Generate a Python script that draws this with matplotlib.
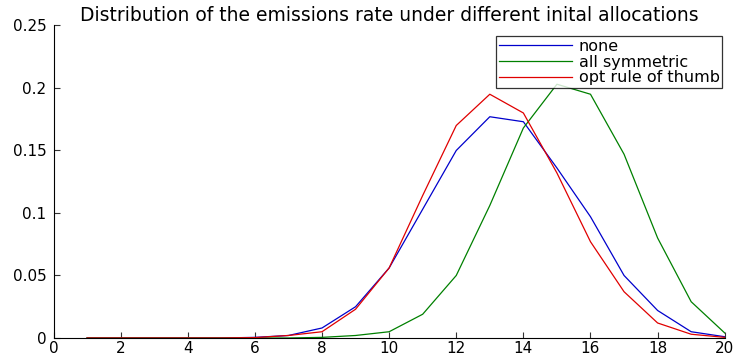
import matplotlib
matplotlib.use("Agg")
import matplotlib.pyplot as plt

plt.rcParams['font.family'] = ['DejaVu Sans']

x = list(range(1, 21))
none = [0, 0, 0, 0, 0, 0.0005, 0.002, 0.008, 0.025, 0.056, 0.103, 0.150, 0.177, 0.173,
        0.136, 0.097, 0.050, 0.022, 0.005, 0.001]
all_sym = [0, 0, 0, 0, 0, 0, 0, 0.0005, 0.002, 0.005, 0.019, 0.050, 0.106, 0.168,
           0.203, 0.195, 0.147, 0.080, 0.029, 0.004]
opt_rule = [0, 0, 0, 0, 0, 0.0003, 0.002, 0.005, 0.023, 0.056, 0.114, 0.170, 0.195, 0.180,
            0.132, 0.077, 0.037, 0.012, 0.003, 0.0005]
labels = ["none", "all symmetric", "opt rule of thumb"]

fig = plt.figure(figsize=(7.36, 3.56), dpi=100)
ax = fig.add_axes([0.0727, 0.0506, 0.912, 0.8778])

ax.plot(x, none, color="#0000cc", lw=0.9, label=labels[0])
ax.plot(x, all_sym, color="#008000", lw=0.9, label=labels[1])
ax.plot(x, opt_rule, color="#e00000", lw=0.9, label=labels[2])

ax.set_xlim(0, 20)
ax.set_ylim(0, 0.25)
ax.set_xticks(range(0, 21, 2))
ax.set_yticks([0, 0.05, 0.1, 0.15, 0.2, 0.25])
ax.set_yticklabels(["0", "0.05", "0.1", "0.15", "0.2", "0.25"])
ax.tick_params(direction="in", labelsize=11, length=4, color="#333333")
ax.tick_params(axis="x", pad=2)
ax.tick_params(axis="y", pad=5)
ax.spines["top"].set_visible(False)
ax.spines["right"].set_visible(False)

ax.set_title("Distribution of the emissions rate under different inital allocations",
             fontsize=13.5, pad=3)

leg = ax.legend(loc="upper right", bbox_to_anchor=(0.996, 0.965), bbox_transform=ax.transAxes,
                fontsize=11.5, frameon=True, fancybox=False, borderpad=0.15,
                labelspacing=0.05, handlelength=4.6, handletextpad=0.4,
                borderaxespad=0.0)
leg.get_frame().set_edgecolor("black")
leg.get_frame().set_linewidth(0.9)

fig.savefig("out.png", dpi=100)
